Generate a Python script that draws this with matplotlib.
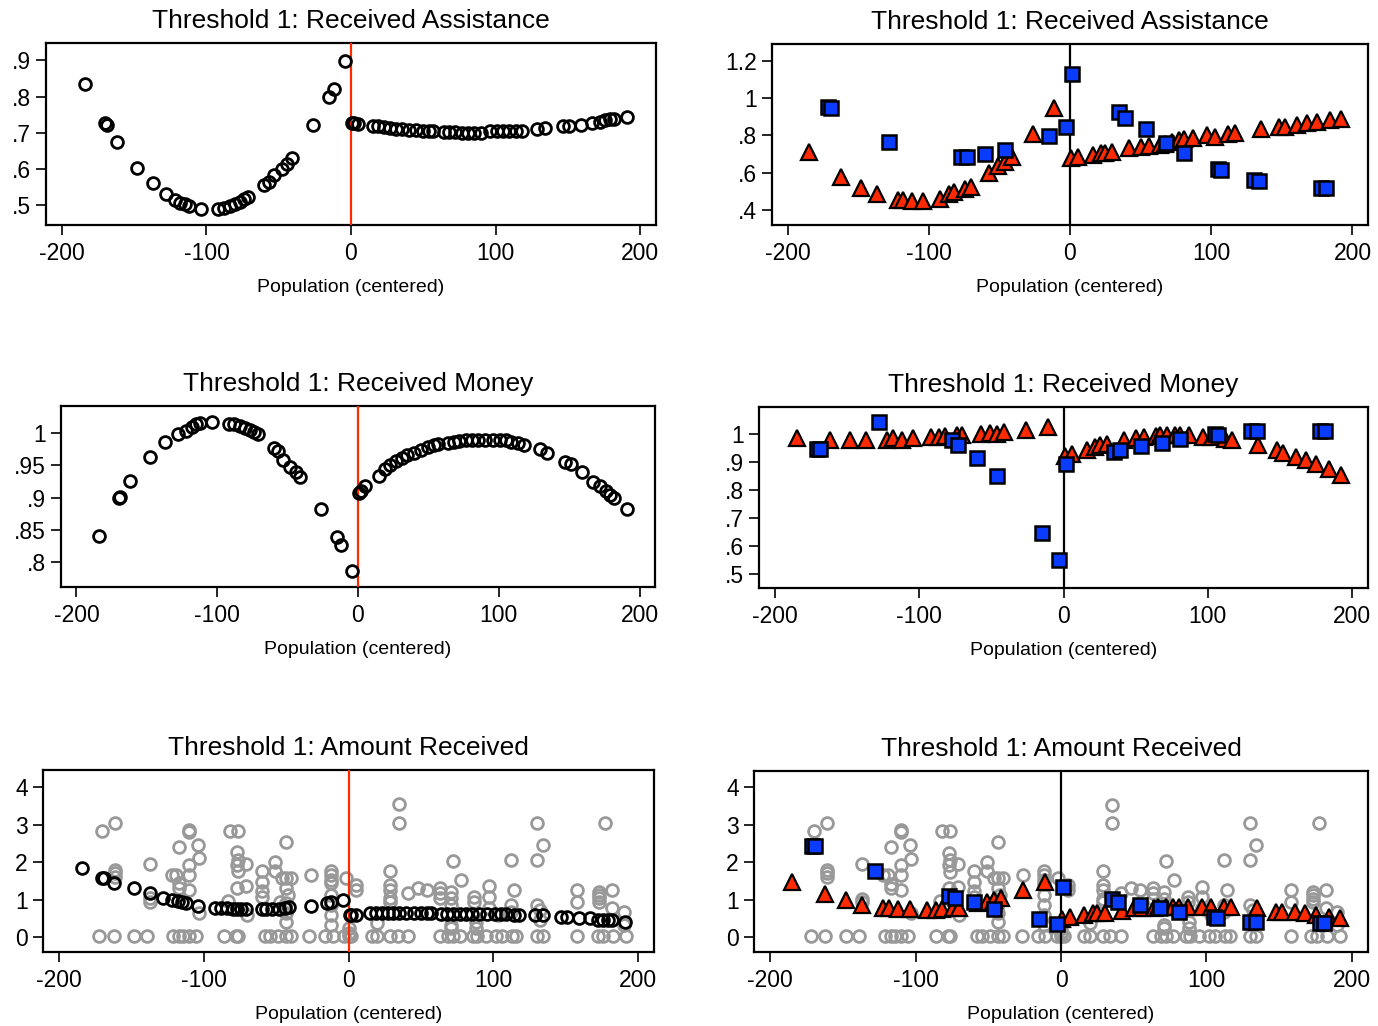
import numpy as np
import matplotlib
matplotlib.use('Agg')
import matplotlib.pyplot as plt

plt.rcParams['font.family'] = ['Liberation Sans', 'DejaVu Sans']

# x positions of the fitted points (left column)
left_x = [-184, -170, -169, -162, -148, -137, -128, -122, -118, -115, -112, -104, -92, -88, -84,
          -80, -77, -74, -71, -60, -57, -53, -48, -44, -41, -26, -15, -12, -4, 1, 2, 5, 15, 19,
          23, 27, 31, 35, 40, 45, 50, 54, 57, 64, 68, 72, 77, 81, 85, 90, 96, 101, 105, 109, 114,
          118, 129, 134, 147, 151, 159, 167, 172, 176, 179, 182, 191]
assist_fit = [.835, .727, .722, .676, .604, .563, .531, .515, .508, .504, .499, .489, .489, .493, .499,
              .504, .510, .517, .524, .556, .565, .584, .600, .615, .632, .722, .800, .821, .897, .728,
              .727, .725, .718, .718, .717, .714, .712, .710, .709, .708, .706, .706, .706, .703, .703,
              .702, .700, .700, .700, .700, .705, .706, .706, .706, .706, .706, .712, .713, .718, .720,
              .722, .728, .731, .735, .737, .739, .743]
money_fit = [.841, .899, .902, .926, .963, .986, .998, 1.004, 1.010, 1.014, 1.015, 1.018, 1.014, 1.014,
             1.011, 1.008, 1.005, 1.002, .998, .977, .972, .959, .948, .940, .932, .882, .840, .827,
             .787, .907, .910, .918, .934, .944, .951, .957, .962, .966, .970, .974, .979, .981, .983,
             .985, .986, .988, .989, .990, .990, .990, .990, .990, .989, .987, .984, .982, .975, .970,
             .956, .953, .940, .925, .918, .910, .904, .900, .883]
amount_fit = [1.835, 1.586, 1.568, 1.434, 1.30, 1.167, 1.033, .989, .962, .944, .90, .837, .784, .784,
              .766, .748, .748, .748, .748, .748, .748, .748, .748, .784, .811, .837, .90, .944, .989,
              .588, .588, .588, .63, .63, .63, .63, .63, .63, .63, .63, .63, .63, .63, .615, .615, .615,
              .615, .615, .615, .615, .615, .615, .615, .615, .59, .59, .59, .59, .54, .54, .50, .50,
              .45, .45, .45, .45, .41]

# raw observations of amount received (gray)
zero_x = [-172, -162, -148, -139, -121, -117, -114, -110, -105, -86, -78, -76, -58, -54, -49, -43, -40,
          -27, -16, -11, -3, 0, 2, 16, 20, 29, 34, 41, 63, 69, 72, 77, 86, 89, 95, 102, 106, 113, 116,
          130, 134, 158, 172, 176, 183, 192]
raw_x = [-170, -161, -161, -161, -161, -137, -137, -137, -122, -119, -117, -117, -117, -110, -110, -110,
         -110, -110, -104, -103, -103, -82, -76, -77, -76, -77, -76, -71, -77, -71, -83, -70, -60, -60,
         -60, -60, -51, -51, -43, -46, -43, -40, -43, -42, -43, -43, -43, -47, -44, -26, -12, -12, -12,
         -12, -12, -12, -12, -12, -2, 0, 0, 5, 5, 29, 29, 29, 29, 29, 20, 35, 35, 41, 48, 54, 63, 63, 63,
         71, 71, 71, 71, 71, 72, 78, 87, 87, 88, 88, 97, 97, 97, 103, 112, 114, 112, 112, 130, 130, 134,
         130, 132, 132, 158, 158, 173, 173, 173, 173, 177, 182, 182, 190, 190]
raw_y = [2.84, 3.04, 1.79, 1.70, 1.61, 1.94, 1.03, .94, 1.66, 1.66, 2.41, 1.43, 1.30, 2.86, 2.80, 1.92,
         1.66, 1.26, 2.46, 2.10, .63, 2.84, 2.84, 2.26, 2.06, 1.92, 1.75, 1.94, 1.30, 1.35, .96, .59, 1.76,
         1.48, 1.23, 1.08, 1.76, 2.01, 2.55, 1.57, 1.57, 1.57, 1.30, 1.12, .90, .63, .41, .94, .81, 1.66,
         1.76, 1.66, 1.52, 1.43, 1.12, .86, .59, .32, 1.57, .23, .12, 1.39, 1.26, 1.76, 1.39, 1.26, 1.03,
         .94, .37, 3.54, 3.04, 1.17, 1.30, 1.26, 1.30, 1.17, 1.03, 1.21, 1.03, .86, .32, .23, 2.04, 1.52,
         1.08, .94, .41, .23, 1.35, 1.08, .77, .59, 2.06, 1.26, .86, .68, 3.04, 2.06, 2.46, .86, .72, .45,
         1.26, .94, 1.21, 1.12, 1.03, .94, 3.04, 1.26, .77, .68, .32]

# right column: triangles and squares
tri_x = [-185, -162, -148, -137, -122, -118, -112, -104, -92, -86, -82, -74, -70, -57, -51, -46, -41,
         -26, -11, 1, 6, 16, 22, 25, 30, 42, 50, 56, 64, 67, 72, 77, 81, 87, 97, 103, 112, 117, 135,
         148, 152, 161, 168, 175, 184, 192]
tri_assist = [.712, .575, .516, .484, .454, .454, .450, .450, .462, .486, .498, .511, .525, .600, .636,
              .659, .686, .807, .945, .677, .686, .695, .704, .707, .712, .730, .739, .743, .750, .754,
              .766, .775, .779, .784, .802, .793, .807, .814, .832, .846, .846, .855, .864, .873, .882, .887]
tri_money = [.988, .981, .981, .981, .981, .987, .981, .988, .990, .990, .993, .996, .996, 1.002, 1.005,
             1.002, 1.007, 1.017, 1.026, .921, .931, .943, .955, .960, .967, .981, .988, .990, .995, .996,
             .998, .998, .998, .998, .990, .990, .985, .981, .961, .943, .933, .919, .907, .895, .875, .853]
tri_amount = [1.48, 1.15, .99, .87, .78, .78, .75, .75, .72, .72, .75, .77, .77, .90, .93, .99, 1.04,
              1.26, 1.46, .48, .54, .59, .63, .63, .63, .69, .77, .78, .78, .80, .81, .81, .81, .81, .81,
              .81, .81, .81, .78, .68, .68, .66, .63, .59, .54, .50]
sq_x = [-171, -169, -128, -77, -73, -60, -46, -15, -3, 1.5, 35, 39, 54, 68, 81, 105, 107, 130, 134, 178, 181]
sq_assist = [.950, .945, .766, .686, .686, .698, .721, .798, .843, 1.127, .927, .896, .832, .757, .704,
             .618, .615, .561, .557, .516, .516]
sq_money = [.949, .949, 1.044, .979, .963, .916, .850, .648, .549, .895, .937, .945, .957, .970, .984,
            1.0, .996, 1.011, 1.011, 1.011, 1.011]
sq_amount = [2.44, 2.44, 1.76, 1.10, 1.05, .93, .75, .47, .34, 1.35, 1.01, .94, .86, .77, .66, .54, .52,
             .41, .41, .37, .37]

titles = ['Threshold 1: Received Assistance', 'Threshold 1: Received Money', 'Threshold 1: Amount Received']
W, H = 1378, 1026
boxes = [(46, 43, 656, 225), (772, 44, 1368, 225),
         (61, 406, 655, 587), (759, 407, 1368, 588),
         (43, 770, 654, 952), (754, 771, 1368, 952)]
ylims = [(.446, .948), (.32, 1.29), (.762, 1.042), (.449, 1.098), (-.40, 4.46), (-.40, 4.44)]
yticks = [[.5, .6, .7, .8, .9], [.4, .6, .8, 1, 1.2], [.8, .85, .9, .95, 1],
          [.5, .6, .7, .8, .9, 1], [0, 1, 2, 3, 4], [0, 1, 2, 3, 4]]
ylabels = [['.5', '.6', '.7', '.8', '.9'], ['.4', '.6', '.8', '1', '1.2'],
           ['.8', '.85', '.9', '.95', '1'], ['.5', '.6', '.7', '.8', '.9', '1'],
           ['0', '1', '2', '3', '4'], ['0', '1', '2', '3', '4']]
RED = '#ff2a00'
BLUE = '#0a3cff'

fig = plt.figure(figsize=(W / 100, H / 100), dpi=100)
axes = []
for i, (l, t, r, b) in enumerate(boxes):
    ax = fig.add_axes([l / W, (H - b) / H, (r - l) / W, (b - t) / H])
    ax.set_xlim(-211, 211)
    ax.set_ylim(*ylims[i])
    ax.set_xticks([-200, -100, 0, 100, 200])
    ax.set_xticklabels(['-200', '-100', '0', '100', '200'])
    ax.set_yticks(yticks[i])
    ax.set_yticklabels(ylabels[i])
    ax.tick_params(direction='out', length=7, width=1.2, labelsize=16.5)
    ax.tick_params(axis='x', pad=5)
    ax.tick_params(axis='y', pad=4)
    for s in ax.spines.values():
        s.set_linewidth(1.6)
    ax.set_title(titles[i // 2], fontsize=19, pad=10.5)
    ax.set_xlabel('Population (centered)', fontsize=14, labelpad=10)
    axes.append(ax)

circ = dict(ls='none', marker='o', mfc='none', ms=8.5, mew=2)

# left column
for ax, fit in zip(axes[0::2], [assist_fit, money_fit, amount_fit]):
    if fit is amount_fit:
        ax.plot(zero_x, [0.03] * len(zero_x), mec='#999999', zorder=2, **circ)
        ax.plot(raw_x, raw_y, mec='#999999', zorder=2, **circ)
    ax.axvline(0, color=RED, lw=1.6, zorder=3)
    ax.plot(left_x, fit, mec='black', zorder=4, **circ)

# right column
for ax, ty, sy in zip(axes[1::2], [tri_assist, tri_money, tri_amount], [sq_assist, sq_money, sq_amount]):
    if ty is tri_amount:
        ax.plot(zero_x, [0.03] * len(zero_x), mec='#999999', zorder=2, **circ)
        ax.plot(raw_x, raw_y, mec='#999999', zorder=2, **circ)
    ax.axvline(0, color='black', lw=1.6, zorder=3)
    ax.plot(tri_x, ty, ls='none', marker='^', mfc=RED, mec='black', ms=11, mew=1.6, zorder=4)
    ax.plot(sq_x, sy, ls='none', marker='s', mfc=BLUE, mec='black', ms=10, mew=1.8, zorder=5)

fig.savefig('out.png', dpi=100)
